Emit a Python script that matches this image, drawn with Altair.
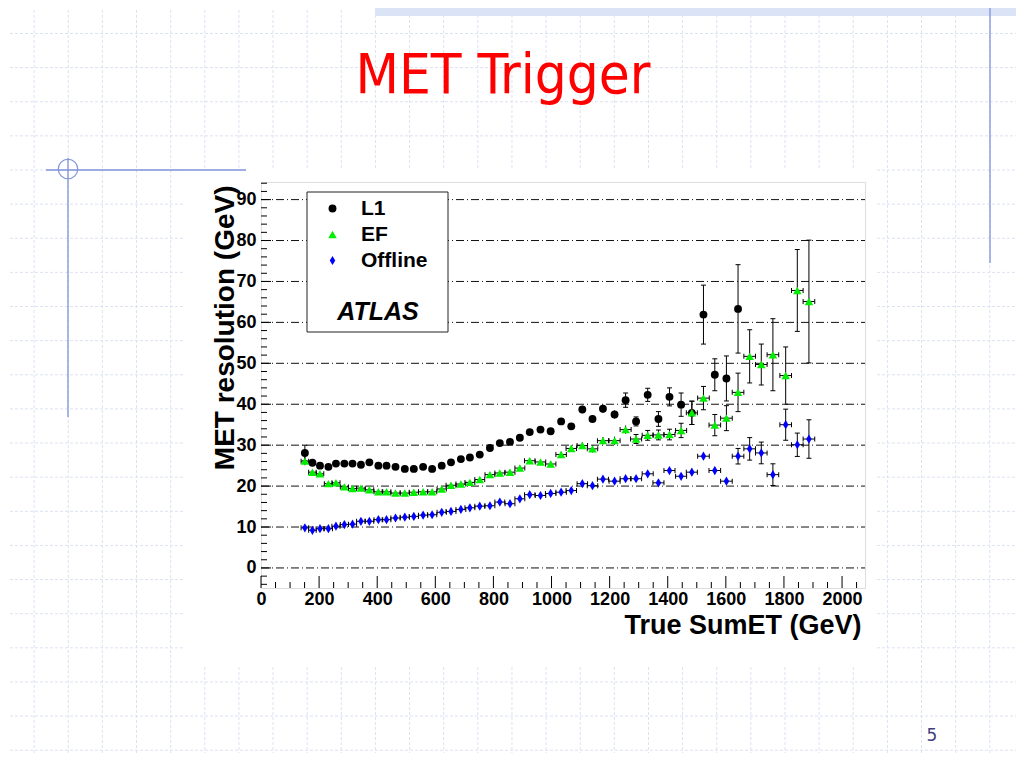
import altair as alt
import pandas as pd

# ---------------- data ----------------
sumet = [151, 177, 203, 232, 258, 287, 315, 344, 373, 404,
         432, 463, 495, 526, 558, 589, 622, 654, 688, 719,
         753, 788, 822, 857, 891, 925, 962, 997, 1033, 1068,
         1106, 1141, 1177, 1217, 1255, 1291, 1331, 1368, 1406, 1446,
         1483, 1523, 1562, 1602, 1642, 1682, 1722, 1762, 1806, 1846,
         1886]
sumet_halfwidth = [13, 13, 13, 14, 14, 14, 14, 15, 15, 15,
                   15, 16, 16, 16, 16, 16, 16, 17, 17, 17,
                   17, 17, 17, 17, 17, 18, 18, 18, 18, 18,
                   18, 18, 19, 19, 19, 19, 19, 19, 19, 19,
                   19, 20, 20, 20, 20, 20, 20, 20, 20, 20,
                   20]
l1_res = [28.1, 25.7, 25.0, 24.7, 25.5, 25.5, 25.5, 25.2, 25.8, 25.0,
          25.0, 24.7, 24.2, 24.2, 24.7, 24.2, 25.0, 25.8, 26.6, 27.0,
          27.7, 29.3, 30.5, 30.8, 31.8, 33.2, 33.8, 33.4, 35.8, 34.6,
          38.7, 36.4, 38.9, 37.5, 41.0, 35.8, 42.3, 36.4, 41.8, 39.9,
          37.9, 61.9, 47.2, 46.3, 63.3]
l1_err = [1.9, 0.5, 0.4, 0.4, 0.4, 0.4, 0.4, 0.4, 0.4, 0.4,
          0.4, 0.4, 0.4, 0.4, 0.4, 0.5, 0.5, 0.5, 0.5, 0.5,
          0.6, 0.6, 0.6, 0.6, 0.7, 0.7, 0.7, 0.7, 0.8, 0.8,
          0.9, 0.9, 1.0, 1.0, 1.75, 1.1, 1.6, 1.8, 2.2, 2.85,
          2.85, 7.2, 3.9, 5.5, 10.8]
ef_res = [26.1, 23.4, 23.0, 20.6, 20.8, 19.8, 19.4, 19.5, 19.1, 18.6,
          18.6, 18.3, 18.3, 18.5, 18.6, 18.6, 19.3, 20.2, 20.5, 20.9,
          21.6, 22.8, 23.2, 23.4, 24.4, 26.2, 25.9, 25.4, 27.7, 29.2,
          29.9, 29.1, 31.1, 31.1, 33.8, 31.5, 32.4, 32.5, 32.6, 33.6,
          37.9, 41.5, 34.9, 36.6, 42.9, 51.7, 49.7, 52.1, 47.0, 67.8,
          65.1]
ef_err = [1.0, 0.5, 0.4, 0.4, 0.4, 0.4, 0.4, 0.4, 0.4, 0.4,
          0.4, 0.4, 0.4, 0.4, 0.4, 0.4, 0.4, 0.5, 0.5, 0.5,
          0.5, 0.5, 0.5, 0.6, 0.6, 0.6, 0.6, 0.7, 0.7, 0.8,
          0.8, 0.9, 0.9, 1.0, 1.0, 1.1, 1.2, 1.2, 1.3, 1.75,
          2.85, 2.85, 2.6, 3.05, 4.7, 6.5, 5.0, 8.8, 7.0, 10.0,
          15.0]
off_res = [9.8, 9.2, 9.6, 9.6, 10.2, 10.6, 10.7, 11.4, 11.4, 11.8,
           11.8, 12.2, 12.4, 12.6, 12.9, 13.0, 13.6, 13.8, 14.3, 14.7,
           15.1, 15.2, 16.1, 15.7, 16.9, 17.9, 17.7, 18.2, 18.5, 18.9,
           20.6, 20.1, 21.7, 21.2, 21.8, 21.8, 23.0, 20.8, 23.8, 22.4,
           23.4, 27.3, 23.8, 21.2, 27.3, 29.1, 28.1, 22.8, 35.0, 30.1,
           31.5]
off_err = [0.3, 0.3, 0.3, 0.3, 0.3, 0.3, 0.3, 0.3, 0.3, 0.3,
           0.3, 0.3, 0.3, 0.3, 0.3, 0.3, 0.3, 0.3, 0.3, 0.3,
           0.3, 0.3, 0.3, 0.3, 0.4, 0.4, 0.4, 0.4, 0.4, 0.4,
           0.5, 0.5, 0.5, 0.5, 0.5, 0.6, 0.6, 0.6, 0.7, 0.7,
           0.8, 0.9, 0.9, 0.8, 1.9, 2.75, 2.65, 2.65, 3.8, 2.85,
           4.7]
series_names = ["L1", "EF", "Offline"]
x_tick_labels = [0, 200, 400, 600, 800, 1000, 1200, 1400, 1600, 1800, 2000]
y_tick_labels = [0, 10, 20, 30, 40, 50, 60, 70, 80, 90]
slide_title = "MET Trigger"
slide_number = "5"

# ---------------- layout / style ----------------
W, H = 604, 406          # plot area
OX, OY = 261, 182        # page position of the plot origin
FONT = "Liberation Sans"
SLIDE_LINE = "#7f93d9"
GRID_FAINT = "#dde2f3"

rows = []
for name, vals, errs in [("L1", l1_res, l1_err), ("EF", ef_res, ef_err),
                         ("Offline", off_res, off_err)]:
    for i, (v, e) in enumerate(zip(vals, errs)):
        rows.append({"series": name, "sumet": sumet[i], "hw": sumet_halfwidth[i],
                     "res": v, "err": e})
df = pd.DataFrame(rows)

xs = alt.Scale(domain=[0, 2079], nice=False, zero=False)
ys = alt.Scale(domain=[-4.9, 94.3], nice=False, zero=False)

xaxis = alt.Axis(values=x_tick_labels, format="d", grid=False, ticks=False, tickSize=0, domain=False,
                 labelFont=FONT, labelFontWeight="bold", labelFontSize=18, labelColor="black",
                 labelPadding=2, labelFlush=False, labelOverlap=False,
                 title="True SumET (GeV)", titleFont=FONT, titleFontWeight="bold",
                 titleFontSize=27, titleColor="black", titleAlign="right",
                 titleBaseline="alphabetic", titleX=W - 4, titleY=45, titleAngle=0)
yaxis = alt.Axis(values=y_tick_labels, format="d", grid=False, ticks=False, tickSize=0, domain=False,
                 labelFont=FONT, labelFontWeight="bold", labelFontSize=18, labelColor="black",
                 labelPadding=5, labelFlush=False, labelOverlap=False,
                 title="MET resolution (GeV)", titleFont=FONT, titleFontWeight="bold",
                 titleFontSize=28, titleColor="black", titleAlign="right",
                 titleBaseline="alphabetic", titleAngle=270, titleX=-28, titleY=3)

X = lambda f: alt.X(f, scale=xs, axis=xaxis)
Y = lambda f: alt.Y(f, scale=ys, axis=yaxis)

# ---------------- slide decoration ----------------
step = 34.13
seg = []
for k in range(1, 30):
    xk = step * k
    if 183 < xk < 877:
        seg += [(xk, xk, 0, 170), (xk, xk, 667, 768)]
    else:
        seg += [(xk, xk, 0, 768)]
for m in range(-4, 18):
    ym = 170 + step * m
    if 165 <= ym < 667:
        seg += [(0, 183, ym, ym), (877, 1024, ym, ym)]
    else:
        seg += [(0, 1024, ym, ym)]
seg_df = pd.DataFrame([{"px1": a - OX, "px2": b - OX, "py1": c - OY, "py2": d - OY}
                       for a, b, c, d in seg])
slide_grid = alt.Chart(seg_df).mark_rule(color=GRID_FAINT, strokeWidth=1, strokeDash=[3, 2]).encode(
    x=alt.X("px1:Q", scale=None), x2="px2:Q", y=alt.Y("py1:Q", scale=None), y2="py2:Q")

one = pd.DataFrame({"k": [0]})
band = alt.Chart(one).mark_rect(color="#dbe4f7").encode(
    x=alt.value(375 - OX), x2=alt.value(1024 - OX), y=alt.value(-OY), y2=alt.value(16 - OY))
vline_r = alt.Chart(one).mark_rule(color=SLIDE_LINE, strokeWidth=1.3).encode(
    x=alt.value(990 - OX), y=alt.value(-OY), y2=alt.value(263 - OY))
hline_l = alt.Chart(one).mark_rule(color=SLIDE_LINE, strokeWidth=1.3).encode(
    x=alt.value(46 - OX), x2=alt.value(246 - OX), y=alt.value(170 - OY))
vline_l = alt.Chart(one).mark_rule(color=SLIDE_LINE, strokeWidth=1.3).encode(
    x=alt.value(68 - OX), y=alt.value(158 - OY), y2=alt.value(417 - OY))
ring = alt.Chart(one).mark_point(shape="circle", filled=False, size=380, color=SLIDE_LINE,
                                 strokeWidth=1.2, opacity=1).encode(
    x=alt.value(68 - OX), y=alt.value(169 - OY))
title_txt = alt.Chart(pd.DataFrame({"t": [slide_title]})).mark_text(
    font="DejaVu Sans Condensed, DejaVu Sans", fontSize=56, color="#ff0000",
    align="center", baseline="alphabetic").encode(
    x=alt.value(503 - OX), y=alt.value(93 - OY), text="t:N")
page_no = alt.Chart(pd.DataFrame({"t": [slide_number]})).mark_text(
    font="DejaVu Sans", fontSize=17, color="#3f3f7f", align="center", baseline="middle").encode(
    x=alt.value(932 - OX), y=alt.value(736 - OY), text="t:N")

# ---------------- ROOT-style frame content ----------------
grid_df = pd.DataFrame({"v": y_tick_labels})
hgrid = alt.Chart(grid_df).mark_rule(color="#111111", strokeWidth=1, strokeDash=[8, 3, 1, 3]).encode(
    y=Y("v:Q"), x=alt.value(0), x2=alt.value(W))

y_minor = [v for v in range(-4, 95, 2) if v % 10 != 0]
x_minor = [v for v in range(0, 2079, 50) if v % 200 != 0]
ytick_major = alt.Chart(pd.DataFrame({"v": y_tick_labels})).mark_rule(color="black").encode(
    y=Y("v:Q"), x=alt.value(0), x2=alt.value(10))
ytick_minor = alt.Chart(pd.DataFrame({"v": y_minor})).mark_rule(color="black").encode(
    y=Y("v:Q"), x=alt.value(0), x2=alt.value(6))
xtick_major = alt.Chart(pd.DataFrame({"v": x_tick_labels})).mark_rule(color="black").encode(
    x=X("v:Q"), y=alt.value(H), y2=alt.value(H - 12))
xtick_minor = alt.Chart(pd.DataFrame({"v": x_minor})).mark_rule(color="black").encode(
    x=X("v:Q"), y=alt.value(H), y2=alt.value(H - 6))

legend_box = alt.Chart(one).mark_rect(fill="white", stroke="#222222", strokeWidth=1).encode(
    x=alt.value(307 - OX), x2=alt.value(448 - OX), y=alt.value(192 - OY), y2=alt.value(332 - OY))
atlas = alt.Chart(pd.DataFrame({"t": ["ATLAS"]})).mark_text(
    font=FONT, fontSize=25, fontWeight="bold", fontStyle="italic", color="black",
    align="center", baseline="middle").encode(
    x=alt.value(378 - OX), y=alt.value(312 - OY), text="t:N")

base = alt.Chart(df).transform_calculate(
    lo="datum.res - datum.err", hi="datum.res + datum.err",
    xl="datum.sumet - datum.hw", xh="datum.sumet + datum.hw")
vbar = base.mark_rule(color="black", strokeWidth=1).encode(x=X("sumet:Q"), y=Y("lo:Q"), y2="hi:Q")
caps = base.transform_filter("datum.err > 1")
cap_hi = caps.mark_tick(orient="horizontal", color="black", size=5, thickness=1, opacity=1).encode(
    x=X("sumet:Q"), y=Y("hi:Q"))
cap_lo = caps.mark_tick(orient="horizontal", color="black", size=5, thickness=1, opacity=1).encode(
    x=X("sumet:Q"), y=Y("lo:Q"))
hb = base.transform_filter("datum.series != 'L1'")
hbar = hb.mark_rule(color="black", strokeWidth=1).encode(x=X("xl:Q"), x2="xh:Q", y=Y("res:Q"))
hcap_l = hb.mark_tick(orient="vertical", color="black", size=5, thickness=1, opacity=1).encode(
    x=X("xl:Q"), y=Y("res:Q"))
hcap_r = hb.mark_tick(orient="vertical", color="black", size=5, thickness=1, opacity=1).encode(
    x=X("xh:Q"), y=Y("res:Q"))

DIAMOND = "M0,-1L0.6,0L0,1L-0.6,0Z"
leg = alt.Legend(title=None, orient="none", legendX=61, legendY=16, direction="vertical",
                 labelFont=FONT, labelFontWeight="bold", labelFontSize=21, labelColor="black",
                 labelOffset=18, rowPadding=4, symbolStrokeWidth=0, padding=0)
points = alt.Chart(df).mark_point(filled=True, opacity=1).encode(
    x=X("sumet:Q"), y=Y("res:Q"),
    color=alt.Color("series:N", scale=alt.Scale(domain=series_names,
                                                range=["#000000", "#00ee00", "#0000ff"]), legend=leg),
    shape=alt.Shape("series:N", scale=alt.Scale(domain=series_names,
                                                range=["circle", "triangle-up", DIAMOND]), legend=leg),
    size=alt.Size("series:N", scale=alt.Scale(domain=series_names, range=[62, 85, 58]), legend=leg))

chart = alt.layer(
    slide_grid, band, vline_r, hline_l, vline_l, ring, title_txt, page_no,
    hgrid, ytick_major, ytick_minor, xtick_major, xtick_minor,
    legend_box, atlas,
    vbar, cap_hi, cap_lo, hbar, hcap_l, hcap_r, points
).properties(
    width=W, height=H,
    autosize=alt.AutoSizeParams(type="none"),
    padding={"left": OX - 8, "top": OY - 8, "right": 1016 - OX - W, "bottom": 753 - OY - H},
).configure_view(stroke="#222222", strokeWidth=1).configure(background="white")

chart.save("out.html", embed_options={"renderer": "svg", "actions": False})
